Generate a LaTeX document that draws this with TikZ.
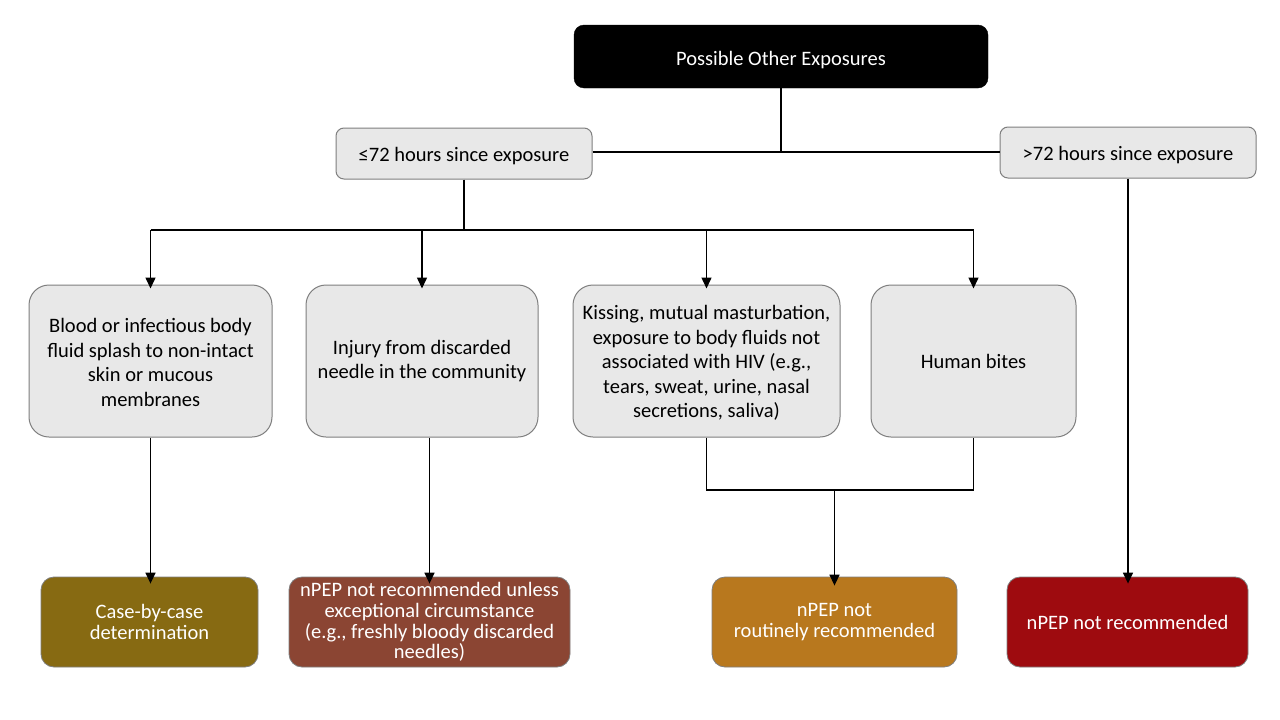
\documentclass[tikz,border=0pt]{standalone}
\usepackage{fontspec}
\setmainfont{Carlito}
\usetikzlibrary{arrows.meta}
\definecolor{boxgray}{HTML}{E8E8E8}
\definecolor{edgegray}{HTML}{7F7F7F}
\definecolor{olive}{HTML}{876A12}
\definecolor{rust}{HTML}{8B4533}
\definecolor{amber}{HTML}{B8781E}
\definecolor{crimson}{HTML}{9E0B0F}
\newcommand\dnstrut[1]{\rule{0pt}{#1}}
\begin{document}
\begin{tikzpicture}[x=1pt,y=-1pt,
  every node/.style={inner sep=0pt,align=center,font=\fontsize{20.5}{24.5}\selectfont},
  graybox/.style={draw=edgegray,fill=boxgray,line width=1pt,rounded corners=20pt,text=black},
  smallbox/.style={draw=edgegray,fill=boxgray,line width=1pt,rounded corners=8pt,text=black},
  resbox/.style={draw=edgegray,line width=0.8pt,rounded corners=13pt,text=white,font=\fontsize{20.5}{20.8}\selectfont},
  conn/.style={line width=1.5pt,black},
  arr/.style={conn,-{Triangle[width=10pt,length=11pt]}}
]
\useasboundingbox[fill=white] (0,0) rectangle (1280,720);

\node[fill=black,draw=black,rounded corners=10pt,text=white,minimum width=414pt,minimum height=63pt] (top) at (781,56.5) {\dnstrut{21pt}Possible Other Exposures};

\node[smallbox,minimum width=256pt,minimum height=51pt] (le) at (464,153.5) {\dnstrut{19pt}≤72 hours since exposure};
\node[smallbox,minimum width=256pt,minimum height=51pt] (gt) at (1128,152.5) {\dnstrut{19pt}>72 hours since exposure};

\node[graybox,minimum width=243pt,minimum height=152pt] (b1) at (150.5,361) {\dnstrut{17pt}Blood or infectious body\\fluid splash to non-intact\\skin or mucous\\membranes};
\node[graybox,minimum width=232pt,minimum height=152pt] (b2) at (422,361) {Injury from discarded\\needle in the community};
\node[graybox,minimum width=267pt,minimum height=152pt] (b3) at (706.5,361) {\dnstrut{18pt}Kissing, mutual masturbation,\\exposure to body fluids not\\associated with HIV (e.g.,\\tears, sweat, urine, nasal\\secretions, saliva)};
\node[graybox,minimum width=205pt,minimum height=152pt] (b4) at (973.5,361) {Human bites};

\node[resbox,fill=olive,minimum width=217pt,minimum height=90pt] (r1) at (149.5,622) {Case-by-case\\determination};
\node[resbox,fill=rust,minimum width=281pt,minimum height=90pt] (r2) at (429.5,622) {nPEP not recommended unless\\exceptional circumstance\\(e.g., freshly bloody discarded\\needles)};
\node[resbox,fill=amber,minimum width=245pt,minimum height=90pt] (r3) at (834.5,622) {nPEP not\\routinely recommended};
\node[resbox,fill=crimson,minimum width=241pt,minimum height=90pt] (r4) at (1127.5,622) {nPEP not recommended};

% top split
\coordinate (tj) at (top.south |- 0,152);
\draw[conn] (top.south) -- (tj);
\draw[conn] (le.east |- tj) -- (gt.west |- tj);

% <=72 branches
\coordinate (lj) at (le.south |- 0,230);
\draw[conn] (le.south) -- (lj);
\coordinate (h1) at (b1.north |- lj);
\coordinate (h4) at (b4.north |- lj);
\draw[conn] (h1) -- (h4);
\draw[arr] (h1) -- ([yshift=-4pt]b1.north);
\draw[arr] (b2.north |- lj) -- ([yshift=-4pt]b2.north);
\draw[arr] (b3.north |- lj) -- ([yshift=-4pt]b3.north);
\draw[arr] (h4) -- ([yshift=-4pt]b4.north);

% down to results
\draw[arr] (b1.south) -- ([yshift=-7pt]b1.south |- r1.north);
\draw[arr] (r2.north |- b2.south) -- ([yshift=-7pt]r2.north);
\coordinate (m3) at (b3.south |- 0,490);
\coordinate (m4) at (b4.south |- 0,490);
\draw[conn] (b3.south) -- (m3) -- (m4) -- (b4.south);
\draw[arr] (r3.north |- m3) -- ([yshift=-9pt]r3.north);
\draw[arr] (gt.south) -- ([yshift=-7pt]gt.south |- r4.north);
\end{tikzpicture}
\end{document}
